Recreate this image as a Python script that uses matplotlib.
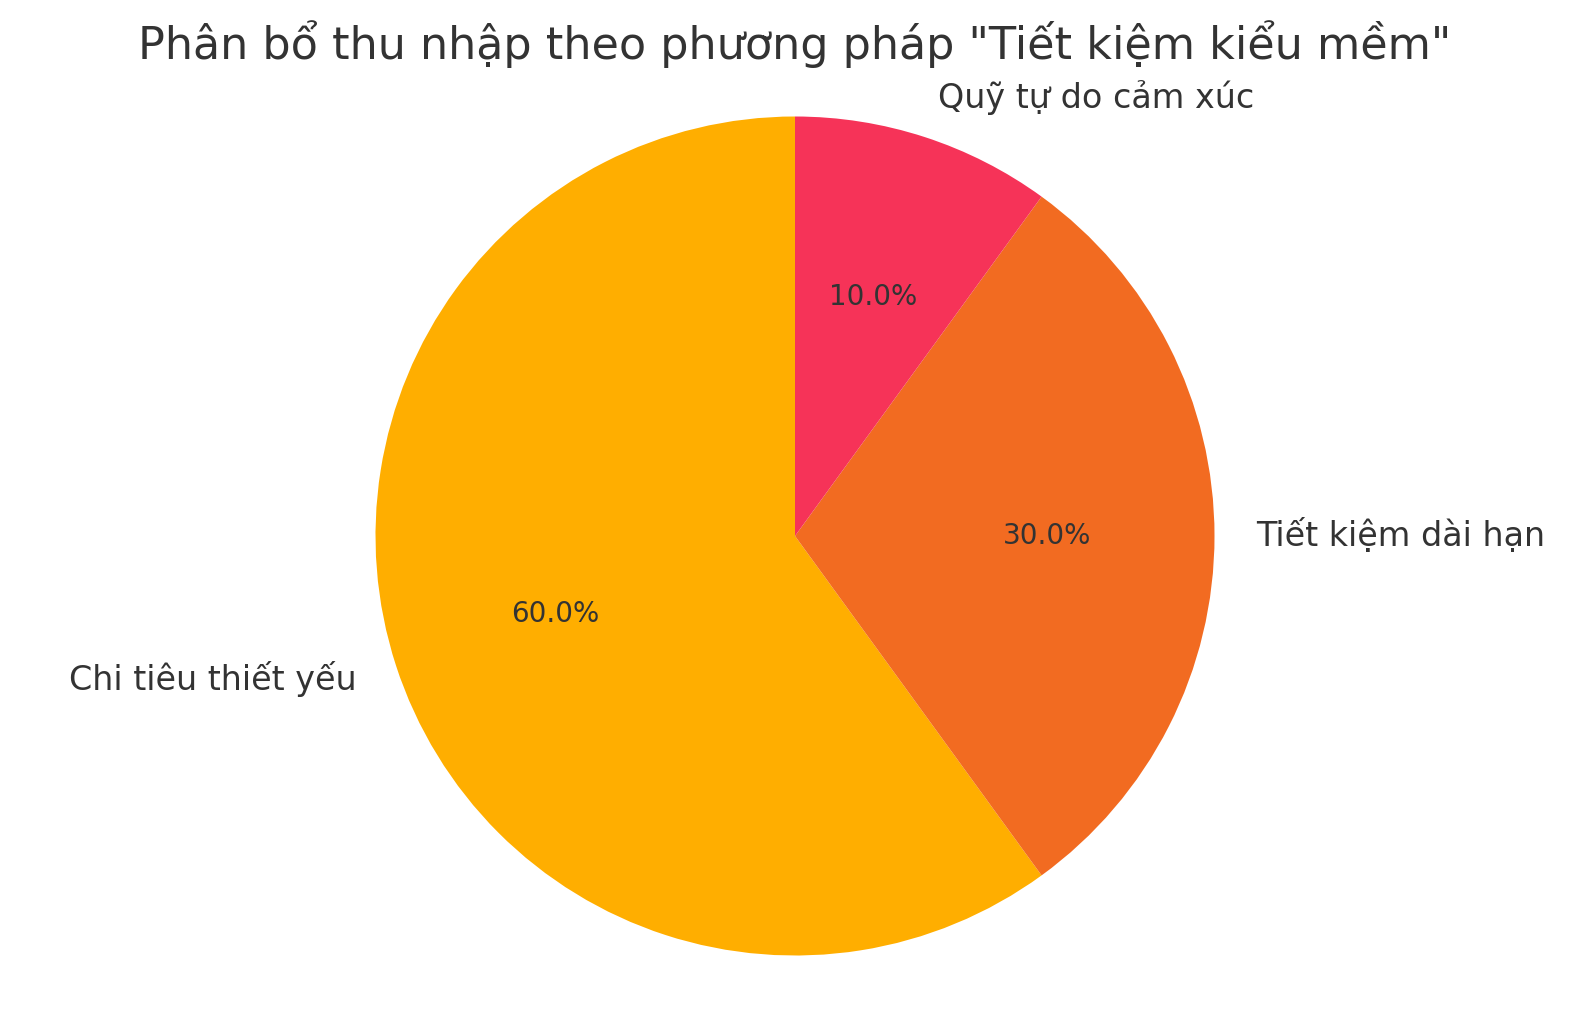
import matplotlib.pyplot as plt

# data
labels = ['Chi tiêu thiết yếu', 'Tiết kiệm dài hạn', 'Quỹ tự do cảm xúc']
sizes = [60, 30, 10]
colors = ['#FFAE00', '#F26B21', '#F63358']
title = 'Phân bổ thu nhập theo phương pháp "Tiết kiệm kiểu mềm"'

plt.rcParams['font.family'] = ['DejaVu Sans']
text_color = '#333333'

W, H, dpi = 1589, 1019, 200
fig = plt.figure(figsize=(W / dpi, H / dpi), dpi=dpi)
ax = fig.add_axes([0, 0, 1, 1])

# pie centre and radius in pixels
cx, cy, r = 795, 536, 419.5

ax.pie(sizes, labels=labels, colors=colors, autopct='%1.1f%%',
       startangle=90, textprops={'color': text_color, 'fontsize': 12})
for t in ax.texts:
    if t.get_text().endswith('%'):
        t.set_fontsize(10)

ax.set_xlim(-cx / r, (W - cx) / r)
ax.set_ylim((cy - H) / r, cy / r)
ax.set_aspect('auto')
ax.axis('off')

fig.text(cx / W, 1 - 59.5 / H, title, ha='center', va='baseline',
         fontsize=16, color=text_color)

fig.savefig('out.png', dpi=dpi)
